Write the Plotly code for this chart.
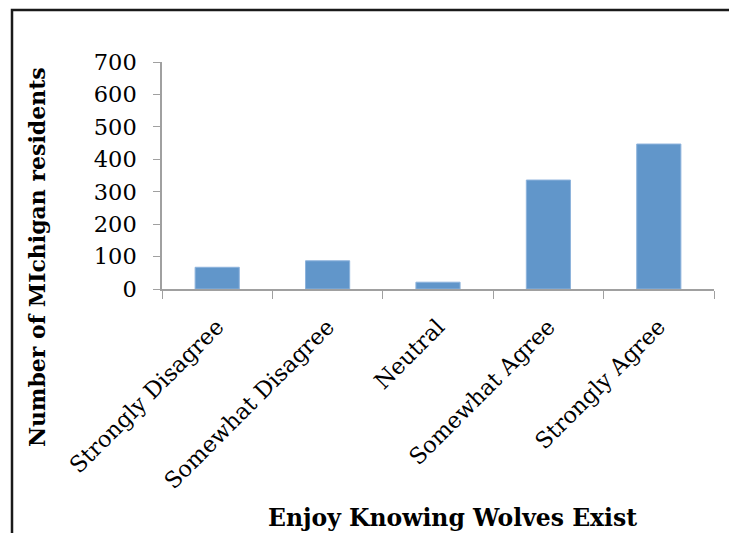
import plotly.graph_objects as go

# Survey responses: "Enjoy knowing wolves exist"
categories = ["Strongly Disagree", "Somewhat Disagree", "Neutral",
              "Somewhat Agree", "Strongly Agree"]
residents = [67, 87, 21, 336, 447]
y_ticks = [0, 100, 200, 300, 400, 500, 600, 700]

W, H = 729, 533
ML, MR, MT, MB = 162, 15, 62, 244
PW, PH = W - ML - MR, H - MT - MB


def px_to_paper(x, y):
    return (x - ML) / PW, (H - MB - y) / PH


serif = "DejaVu Serif"
axis_grey = "#a0a0a0"

fig = go.Figure(
    go.Bar(
        x=categories,
        y=residents,
        marker=dict(color="#6196CA", line=dict(color="#8DB3DC", width=1)),
        width=0.4,
    )
)

fig.update_layout(
    width=W,
    height=H,
    margin=dict(l=ML, r=MR, t=MT, b=MB, pad=0),
    paper_bgcolor="white",
    plot_bgcolor="white",
    showlegend=False,
    font=dict(family=serif, color="black", size=22),
)

fig.update_xaxes(
    type="category",
    tickangle=-45,
    tickson="boundaries",
    ticks="outside",
    ticklen=8,
    tickcolor=axis_grey,
    ticklabelstandoff=14,
    showline=True,
    linecolor=axis_grey,
    linewidth=1.5,
    showgrid=False,
    automargin=False,
    tickfont=dict(family=serif, size=22.5, color="black"),
)

fig.update_yaxes(
    range=[0, 700],
    tickvals=y_ticks,
    ticktext=[str(v) for v in y_ticks],
    ticks="outside",
    ticklen=7,
    tickcolor=axis_grey,
    ticklabelstandoff=12,
    showline=True,
    linecolor=axis_grey,
    linewidth=1.5,
    showgrid=False,
    zeroline=False,
    automargin=False,
    tickfont=dict(family=serif, size=22.5, color="black"),
)

# Axis titles
tx, ty = px_to_paper(452, 518)
fig.add_annotation(
    text="<b>Enjoy Knowing Wolves Exist</b>",
    x=tx, y=ty, xref="paper", yref="paper",
    xanchor="center", yanchor="middle", showarrow=False,
    font=dict(family=serif, size=23.5, color="black"),
)
tx, ty = px_to_paper(37, 257)
fig.add_annotation(
    text="<b>Number of MIchigan residents</b>",
    x=tx, y=ty, xref="paper", yref="paper",
    xanchor="center", yanchor="middle", showarrow=False, textangle=-90,
    font=dict(family=serif, size=22, color="black"),
)

# Frame along the top and left edges
x0, y0 = px_to_paper(12, H + 5)
x1, y1 = px_to_paper(12, 10)
x2, _ = px_to_paper(W + 5, 10)
fig.add_shape(
    type="path",
    path=f"M {x0} {y0} L {x1} {y1} L {x2} {y1}",
    xref="paper", yref="paper",
    line=dict(color="#1a1a1a", width=2.5),
)

fig.write_html("out.html")
